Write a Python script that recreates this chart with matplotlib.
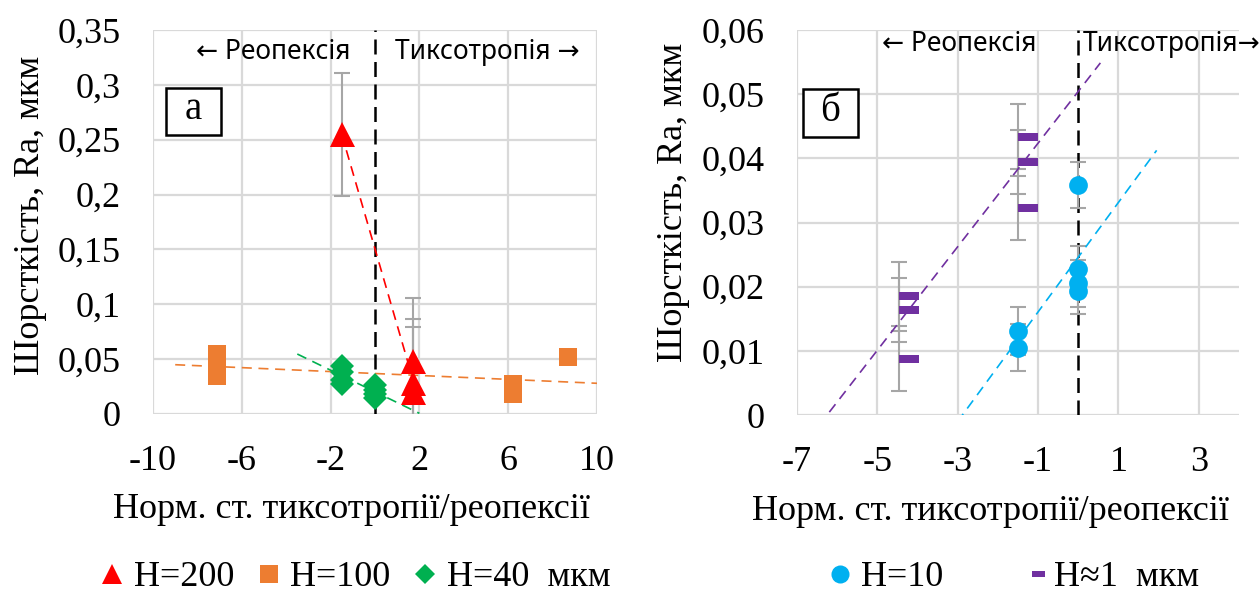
import numpy as np
import matplotlib
matplotlib.use('Agg')
import matplotlib.pyplot as plt
from matplotlib.lines import Line2D
from matplotlib.path import Path
from matplotlib.patches import Rectangle
from matplotlib.ticker import FuncFormatter, MultipleLocator

plt.rcParams['font.family'] = ['Liberation Serif', 'DejaVu Serif']
plt.rcParams['axes.unicode_minus'] = False

# ---- data, chart (а) ----
x200 = [-1.5, 1.7, 1.7, 1.7]
y200 = [0.255, 0.048, 0.028, 0.020]
e200 = [0.056, 0.058, 0.059, 0.059]

x100 = [-7.1, -7.1, -7.1, 6.2, 6.2, 6.2, 8.7]
y100 = [0.0545, 0.045, 0.0345, 0.027, 0.022, 0.018, 0.052]

x40 = [-1.5, -1.5, -1.5, -1.5, 0.0, 0.0, 0.0, 0.0]
y40 = [0.044, 0.038, 0.031, 0.027, 0.026, 0.022, 0.018, 0.015]

# ---- data, chart (б) ----
x10 = [-1.5, -1.5, 0.0, 0.0, 0.0, 0.0]
y10 = [0.0131, 0.0105, 0.0358, 0.0228, 0.0205, 0.0193]
e10 = [0.0037, 0.0037, 0.0036, 0.0036, 0.0036, 0.0036]

x1 = [-4.45, -4.45, -4.45, -1.5, -1.5, -1.5]
y1 = [0.0185, 0.0163, 0.0088, 0.0434, 0.0394, 0.0322]
e1 = [0.0054, 0.0050, 0.0050, 0.0050, 0.0050, 0.0050]

RED = '#ff0000'
ORANGE = '#ed7d31'
GREEN = '#00b050'
CYAN = '#00b0f0'
PURPLE = '#7030a0'
GRID = '#d9d9d9'
ERR = '#a6a6a6'

# dash marker drawn to the right of the point (like the Excel one)
dash = Path([(0, -0.2), (1, -0.2), (1, 0.2), (0, 0.2), (0, -0.2)],
            [Path.MOVETO, Path.LINETO, Path.LINETO, Path.LINETO, Path.CLOSEPOLY])

def fmt(v, pos):
    return f'{v:g}'.replace('.', ',')

def trend(ax, x, y, color, x0, x1_):
    k, b = np.polyfit(x, y, 1)
    xx = np.array([x0, x1_])
    ax.plot(xx, k * xx + b, ls=(0, (6, 4)), color=color, lw=1.2, zorder=3)

def style(ax):
    for s in ax.spines.values():
        s.set_visible(False)
    ax.grid(True, color=GRID, lw=1.6)
    ax.set_axisbelow(True)
    ax.tick_params(length=0, labelsize=26)
    ax.tick_params(axis='x', pad=22)
    ax.tick_params(axis='y', pad=23)
    ax.yaxis.set_major_formatter(FuncFormatter(fmt))

def panel_box(ax, x, y, w, h, letter):
    ax.add_patch(Rectangle((x, y), w, h, transform=ax.transAxes, fc='white',
                           ec='black', lw=1.8, zorder=6, clip_on=False))
    ax.text(x + w / 2, y + h / 2 + 0.005, letter, transform=ax.transAxes,
            ha='center', va='center', fontsize=28, zorder=7)

fig = plt.figure(figsize=(12.59, 5.92), dpi=100)
ax1 = fig.add_axes([153/1259, 178/592, 444/1259, 384/592])
ax2 = fig.add_axes([797/1259, 177/592, 442/1259, 385/592])

sans = ['Noto Sans', 'DejaVu Sans']

# ---------- (а) ----------
style(ax1)
ax1.set_xlim(-10, 10)
ax1.set_ylim(0, 0.35)
ax1.set_xticks([-10, -6, -2, 2, 6, 10])
ax1.yaxis.set_major_locator(MultipleLocator(0.05))
ax1.axvline(0, color='black', lw=1.8, ls=(0, (6, 3)), zorder=2)

trend(ax1, x200, y200, RED, -1.5, 1.7)
trend(ax1, x100, y100, ORANGE, -9, 10)
trend(ax1, x40, y40, GREEN, -3.5, 2.0)
ax1.errorbar(x200, y200, yerr=e200, fmt='none', ecolor=ERR, elinewidth=1.5,
             capsize=6, capthick=1.5, zorder=2)
ax1.plot(x100, y100, 's', color=ORANGE, ms=13, mew=0, zorder=4)
ax1.plot(x40, y40, 'D', color=GREEN, ms=12.5, mew=0, zorder=4)
ax1.plot(x200, y200, '^', color=RED, ms=18, mew=0, zorder=5)

ax1.set_ylabel('Шорсткість, Ra, мкм', fontsize=26, va='center')
ax1.yaxis.set_label_coords(-0.277, 0.516)
ax1.set_xlabel('Норм. ст. тиксотропії/реопексії', fontsize=26, va='center')
ax1.xaxis.set_label_coords(0.446, -0.25)

ax1.text(0.27, 0.943, '← Реопексія', transform=ax1.transAxes, ha='center',
         va='center', fontsize=19, family=sans)
ax1.text(0.752, 0.943, 'Тиксотропія →', transform=ax1.transAxes, ha='center',
         va='center', fontsize=19, family=sans)
panel_box(ax1, 0.029, 0.727, 0.124, 0.122, 'а')

# ---------- (б) ----------
style(ax2)
ax2.set_xlim(-7, 4)
ax2.set_ylim(0, 0.06)
ax2.set_xticks([-7, -5, -3, -1, 1, 3])
ax2.yaxis.set_major_locator(MultipleLocator(0.01))
ax2.axvline(0, color='black', lw=1.8, ls=(0, (6, 3)), zorder=2)

trend(ax2, x1, y1, PURPLE, -6.45, 0.55)
trend(ax2, x10, y10, CYAN, -3.5, 1.95)
ax2.errorbar(x1, y1, yerr=e1, fmt='none', ecolor=ERR, elinewidth=1.5,
             capsize=6, capthick=1.5, zorder=2)
ax2.errorbar(x10, y10, yerr=e10, fmt='none', ecolor=ERR, elinewidth=1.5,
             capsize=6, capthick=1.5, zorder=2)
ax2.plot(x10, y10, 'o', color=CYAN, ms=13.5, mew=0, zorder=4)
ax2.plot(x1, y1, marker=dash, ls='none', color=PURPLE, ms=29, mew=0, zorder=4)

ax2.set_ylabel('Шорсткість, Ra, мкм', fontsize=26, va='center')
ax2.yaxis.set_label_coords(-0.2805, 0.553)
ax2.set_xlabel('Норм. ст. тиксотропії/реопексії', fontsize=26, va='center')
ax2.xaxis.set_label_coords(0.437, -0.25)

ax2.text(0.367, 0.964, '← Реопексія', transform=ax2.transAxes, ha='center',
         va='center', fontsize=19, family=sans)
ax2.text(0.647, 0.964, 'Тиксотропія→', transform=ax2.transAxes, ha='left',
         va='center', fontsize=19, family=sans, clip_on=False)
panel_box(ax2, 0.0136, 0.722, 0.124, 0.125, 'б')

# ---------- legends ----------
h_left = [
    Line2D([], [], marker='^', color=RED, ls='none', ms=14.5, mew=0),
    Line2D([], [], marker='s', color=ORANGE, ls='none', ms=12.5, mew=0),
    Line2D([], [], marker='D', color=GREEN, ls='none', ms=10, mew=0),
]
fig.legend(h_left, ['H=200', 'H=100', 'H=40  мкм'], loc='center',
           bbox_to_anchor=(355/1259, 0.024), ncol=3, frameon=False, fontsize=26,
           handlelength=0.7, handletextpad=0.25, columnspacing=0.6,
           borderpad=0, borderaxespad=0)
h_right = [
    Line2D([], [], marker='o', color=CYAN, ls='none', ms=13, mew=0),
    Line2D([], [], marker=dash, color=PURPLE, ls='none', ms=19, mew=0),
]
fig.legend(h_right, ['H=10', 'H≈1  мкм'], loc='center',
           bbox_to_anchor=(1013/1259, 0.024), ncol=2, frameon=False, fontsize=26,
           handlelength=0.7, handletextpad=0.25, columnspacing=2.1,
           borderpad=0, borderaxespad=0)

fig.savefig('out.png', dpi=100)
